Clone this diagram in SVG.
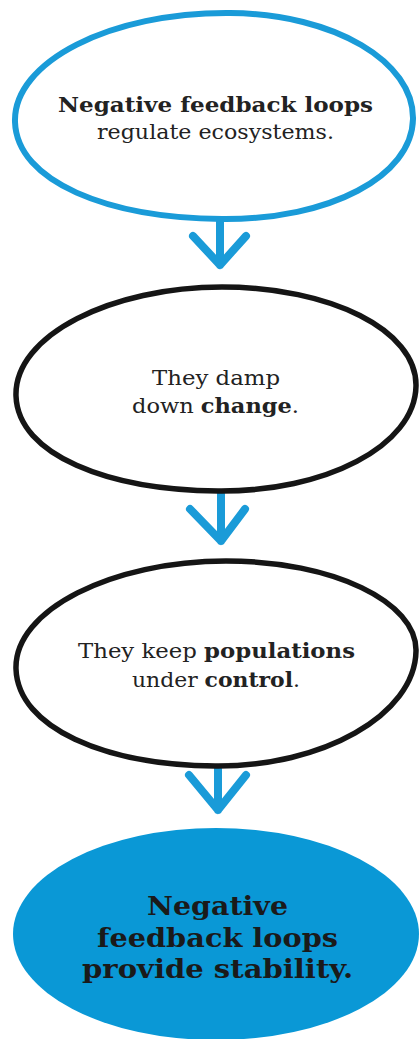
<svg xmlns="http://www.w3.org/2000/svg" width="419" height="1039" viewBox="0 0 419 1039">
<style>
.bg{fill:#ffffff}
.outline-blue{fill:none;stroke:#1a9bd8;stroke-width:6;stroke-linejoin:round}
.outline-black{fill:none;stroke:#151515;stroke-width:5.5;stroke-linejoin:round}
.filled{fill:#0a98d6}
.arrow{fill:none;stroke:#1a9bd8;stroke-width:8;stroke-linecap:round;stroke-linejoin:round}
text{font-family:"DejaVu Serif","Liberation Serif",serif;fill:#222;text-anchor:middle}
.r{font-size:21px;font-weight:normal}
.b{font-weight:bold}
.big{font-size:26px;font-weight:bold;fill:#1a1a1a}
</style>
<rect class="bg" x="0" y="0" width="419" height="1039"/>
<g id="connectors">
  <path class="arrow" d="M220,222 L220,265 M193,236 L220,265 L246,236"/>
  <path class="arrow" d="M221,494 L221,541 M190,509 L221,541 L245,509"/>
  <path class="arrow" d="M218,769 L218,810 M189,775 L218,810 L246,775"/>
</g>
<g id="node1">
  <path class="outline-blue" d="M15,122 C13,62 110,12 230,13 C335,14 414,62 413,119 C412,176 330,220 222,219 C108,218 17,182 15,122 Z"/>
  <text class="r" y="112" x="215.5" textLength="315" lengthAdjust="spacingAndGlyphs"><tspan class="b">Negative feedback loops</tspan></text>
  <text class="r" y="139" x="215.5" textLength="237" lengthAdjust="spacingAndGlyphs">regulate ecosystems.</text>
</g>
<g id="node2">
  <path class="outline-black" d="M16,396 C14,335 112,287 222,287 C330,287 417,330 416,386 C415,446 325,492 218,491 C108,490 18,455 16,396 Z"/>
  <text class="r" y="385" x="216" textLength="128" lengthAdjust="spacingAndGlyphs">They damp</text>
  <text class="r" y="413" x="215.5" textLength="167" lengthAdjust="spacingAndGlyphs">down <tspan class="b">change</tspan>.</text>
</g>
<g id="node3">
  <path class="outline-black" d="M16,669 C14,610 112,561 226,561 C333,561 417,602 416,651 C415,715 322,767 215,766 C105,765 18,728 16,669 Z"/>
  <text class="r" y="658" x="216.5" textLength="277" lengthAdjust="spacingAndGlyphs">They keep <tspan class="b">populations</tspan></text>
  <text class="r" y="687" x="216" textLength="168" lengthAdjust="spacingAndGlyphs">under <tspan class="b">control</tspan>.</text>
</g>
<g id="node4">
  <ellipse class="filled" cx="216" cy="934" rx="203" ry="106"/>
  <text class="big" y="915" x="217.5" textLength="141" lengthAdjust="spacingAndGlyphs">Negative</text>
  <text class="big" y="947" x="217.5" textLength="241" lengthAdjust="spacingAndGlyphs">feedback loops</text>
  <text class="big" y="978" x="217.5" textLength="271" lengthAdjust="spacingAndGlyphs">provide stability.</text>
</g>
</svg>
